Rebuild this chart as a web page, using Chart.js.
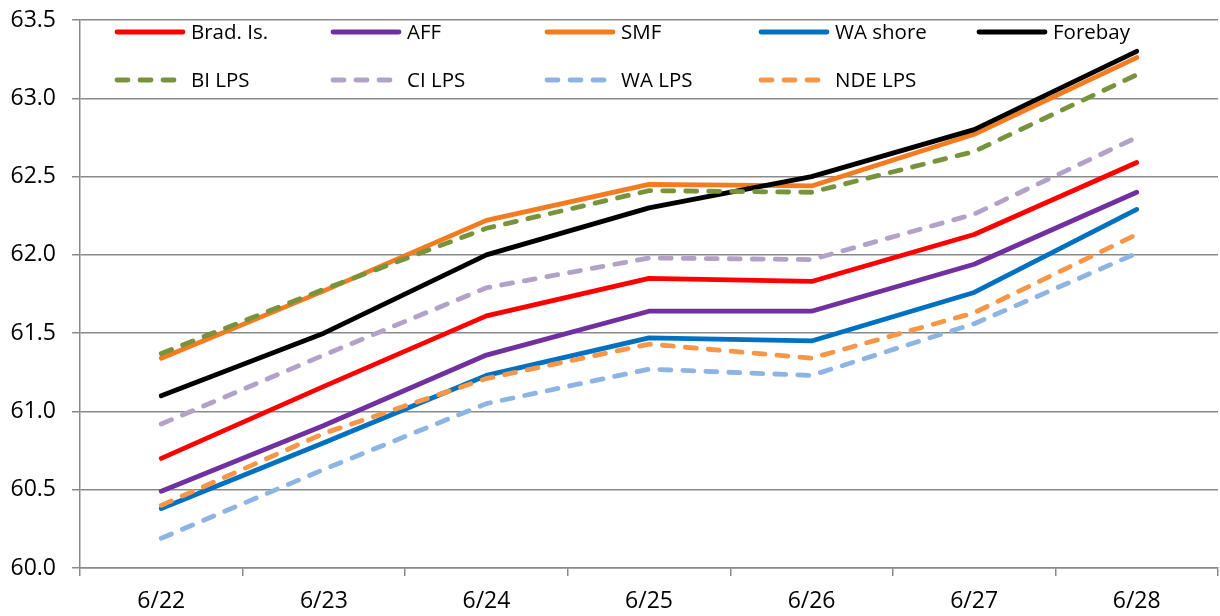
<!DOCTYPE html>
<html>
<head>
<meta charset="utf-8">
<script src="https://cdn.jsdelivr.net/npm/chart.js@4"></script>
<style>
  html, body { margin: 0; padding: 0; background: #ffffff; }
  #wrap { width: 1220px; height: 616px; }
</style>
</head>
<body>
<div id="wrap"><canvas id="c" width="1220" height="616"></canvas></div>
<script>
// ---- data ----
const categories = ["6/22", "6/23", "6/24", "6/25", "6/26", "6/27", "6/28"];
const yTicks = [60.0, 60.5, 61.0, 61.5, 62.0, 62.5, 63.0, 63.5];

const seriesNames = ["Brad. Is.", "AFF", "SMF", "WA shore", "Forebay", "BI LPS", "CI LPS", "WA LPS", "NDE LPS"];

const bradIs   = [60.70, 61.16, 61.61, 61.85, 61.83, 62.13, 62.59];
const aff      = [60.49, 60.91, 61.36, 61.64, 61.64, 61.94, 62.40];
const smf      = [61.34, 61.77, 62.22, 62.45, 62.44, 62.77, 63.26];
const waShore  = [60.38, 60.80, 61.23, 61.47, 61.45, 61.76, 62.29];
const forebay  = [61.10, 61.50, 62.00, 62.30, 62.50, 62.80, 63.30];
const biLps    = [61.37, 61.78, 62.17, 62.41, 62.40, 62.66, 63.15];
const ciLps    = [60.92, 61.36, 61.79, 61.98, 61.97, 62.26, 62.75];
const waLps    = [60.19, 60.63, 61.05, 61.27, 61.23, 61.56, 62.01];
const ndeLps   = [60.40, 60.86, 61.21, 61.43, 61.34, 61.63, 62.13];

const seriesValues = [bradIs, aff, smf, waShore, forebay, biLps, ciLps, waLps, ndeLps];

// ---- styles ----
const colors = ["#FF0000", "#7030A0", "#F47B20", "#0070C0", "#000000", "#77933C", "#B3A2C7", "#8DB4E2", "#F79646"];
const dashed = [false, false, false, false, false, true, true, true, true];
const DASH = [11, 12];
const LW = 4.8;
const GRID = "#8a8a8a";

const datasets = seriesNames.map((name, i) => ({
  label: name,
  data: seriesValues[i],
  borderColor: colors[i],
  backgroundColor: colors[i],
  borderWidth: LW,
  borderDash: dashed[i] ? DASH : [],
  borderCapStyle: "round",
  borderJoinStyle: "round",
  pointRadius: 0,
  pointHoverRadius: 0,
  tension: 0,
  fill: false,
  order: -i
}));

// custom grid legend (two rows, fixed columns) drawn from dataset labels/colours
const gridLegend = {
  id: "gridLegend",
  afterDatasetsDraw(chart) {
    const ctx = chart.ctx;
    const colX = [115, 331, 545, 759, 977];
    const rowY = [32, 80];
    const lineLen = 70;
    ctx.save();
    ctx.font = "20.5px 'Open Sans'";
    ctx.textBaseline = "middle";
    ctx.textAlign = "left";
    chart.data.datasets.forEach((ds, i) => {
      const col = i < 5 ? i : i - 5;
      const row = i < 5 ? 0 : 1;
      const x0 = colX[col], y = rowY[row];
      ctx.beginPath();
      ctx.strokeStyle = ds.borderColor;
      ctx.lineWidth = ds.borderWidth;
      ctx.lineCap = "round";
      ctx.setLineDash(ds.borderDash || []);
      ctx.moveTo(x0 + 2, y);
      ctx.lineTo(x0 + lineLen - 2, y);
      ctx.stroke();
      ctx.setLineDash([]);
      ctx.fillStyle = "#000000";
      ctx.fillText(ds.label, x0 + lineLen + 6, y + 1);
    });
    ctx.restore();
  }
};

Chart.defaults.font.family = "'Open Sans'";
Chart.defaults.color = "#000000";

new Chart(document.getElementById("c"), {
  type: "line",
  data: { labels: categories, datasets: datasets },
  plugins: [gridLegend],
  options: {
    responsive: false,
    animation: false,
    devicePixelRatio: 1,
    layout: { padding: { top: 20, right: 2, left: 0, bottom: 0 } },
    plugins: {
      legend: { display: false },
      tooltip: { enabled: false },
      title: { display: false }
    },
    scales: {
      x: {
        type: "category",
        offset: true,
        grid: {
          offset: true,
          drawOnChartArea: false,
          drawTicks: true,
          tickLength: 8,
          color: GRID,
          lineWidth: 1.5
        },
        border: { display: true, color: GRID, width: 1.5 },
        ticks: {
          font: { size: 23, family: "'Open Sans'" },
          color: "#000000",
          padding: 12,
          maxRotation: 0,
          autoSkip: false
        },
        afterFit(scale) {
          scale.height = 48;
          scale.paddingLeft = 0;
          scale.paddingRight = 0;
        }
      },
      y: {
        min: yTicks[0],
        max: yTicks[yTicks.length - 1],
        afterBuildTicks(scale) { scale.ticks = yTicks.map(v => ({ value: v })); },
        grid: {
          drawTicks: true,
          tickLength: 8,
          color: GRID,
          lineWidth: 1.5
        },
        border: { display: true, color: GRID, width: 1.5 },
        ticks: {
          font: { size: 23, family: "'Open Sans'" },
          color: "#000000",
          padding: 16,
          callback: (v) => Number(v).toFixed(1)
        },
        afterFit(scale) {
          scale.width = 80;
          scale.paddingTop = 0;
          scale.paddingBottom = 0;
        }
      }
    }
  }
});
</script>
</body>
</html>
